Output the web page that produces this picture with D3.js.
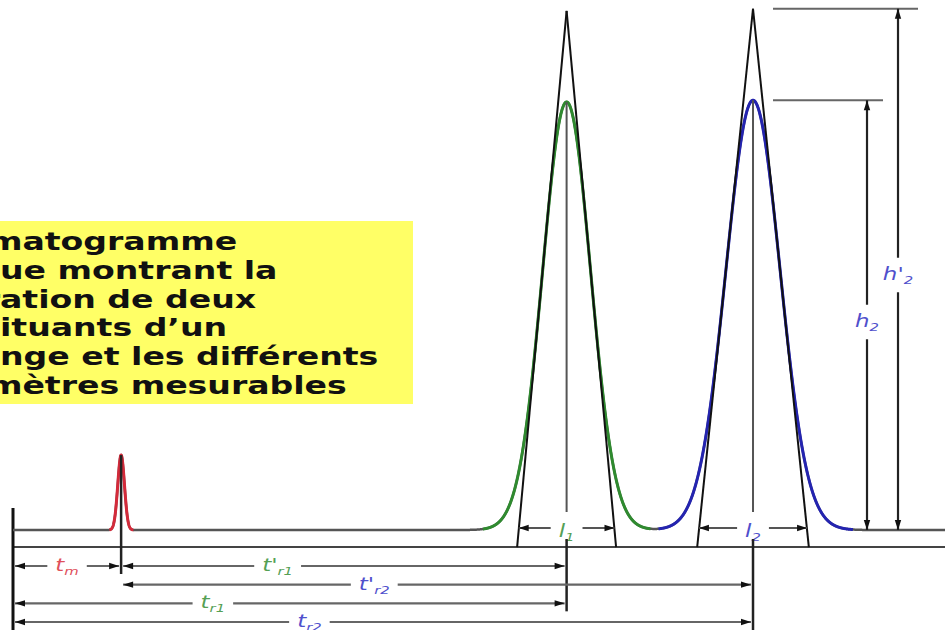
<!DOCTYPE html>
<html>
<head>
<meta charset="utf-8">
<script src="https://cdn.jsdelivr.net/npm/d3@7"></script>
<style>
    body { margin: 0; background: #fff; }
    svg { display: block; }
</style>
</head>
<body>
<svg width="945" height="630"></svg>
<script>
// peaks: dead time (m) and the two separated constituents
var peakKeys = ["m", "1", "2"];
var peakTimes = [11.6, 59.4, 79.4];      // retention time, arbitrary units
var peakHeights = [0.175, 1.0, 1.004];   // relative detector signal
var peakSigmas = [0.36, 2.57, 2.9];      // standard deviation of each peak
var peakColors = ["#d42a3a", "#2f8a2f", "#2424b0"];
var labelColors = ["#e0505a", "#55a055", "#5050cc"];

// time spans measured under the time axis
var spanMain = ["t", "t'", "t'", "t", "t"];
var spanSub = ["m", "r1", "r2", "r1", "r2"];
var spanStart = [0, 11.6, 11.6, 0, 0];
var spanEnd = [11.6, 59.4, 79.4, 59.4, 79.4];
var spanPeak = [0, 1, 2, 1, 2];
var spanRow = [0, 0, 1, 2, 3];

// caption of the figure, its left part is cut by the frame
var captionLines = ["Chromatogramme", "théorique montrant la", "séparation de deux",
    "constituants d’un", "mélange et les différents", "paramètres mesurables"];
var captionHidden = [4.35, 7, 5, 5, 4, 4.35];   // characters hidden past the left edge

/* layout */
var svg = d3.select("svg");
var x = d3.scaleLinear().domain([0, 100]).range([13, 945]);
var y = d3.scaleLinear().domain([0, 1]).range([530, 102]);
var rowY = d3.scaleLinear().domain([0, 3]).range([566, 622]);
var axisLevel = -0.04;
var labelFrac = [0.5, 0.35, 0.4, 0.36, 0.4];
var labelPad = 8;
var stretch = 1.38;

var defs = svg.append("defs");
defs.append("marker")
    .attr("id", "head")
    .attr("viewBox", "0 -4 10 8")
    .attr("refX", 10)
    .attr("refY", 0)
    .attr("markerUnits", "userSpaceOnUse")
    .attr("markerWidth", 11)
    .attr("markerHeight", 8)
    .attr("orient", "auto")
    .append("path")
    .attr("d", "M0,-3.2L10,0L0,3.2Z")
    .attr("fill", "#111");

// caption box
svg.append("rect")
    .attr("x", 0).attr("y", 221)
    .attr("width", 413).attr("height", 183)
    .attr("fill", "#ffff66");

var caption = svg.append("g")
    .attr("transform", "scale(" + stretch + ",1)");
caption.selectAll("text")
    .data(captionLines)
    .enter().append("text")
    .attr("y", function (d, i) { return 250 + i * 28.8; })
    .attr("font-family", "DejaVu Sans, Verdana, sans-serif")
    .attr("font-weight", "bold")
    .attr("font-size", 24)
    .attr("fill", "#111")
    .text(function (d) { return d; })
    .attr("x", function (d, i) {
        var n = Math.floor(captionHidden[i]);
        var w = n > 0 ? this.getSubStringLength(0, n) : 0;
        w += (captionHidden[i] - n) * this.getSubStringLength(n, 1);
        return -w;
    });

function signal(t) {
    var s = 0;
    for (var i = 0; i < peakTimes.length; i++) {
        var z = (t - peakTimes[i]) / peakSigmas[i];
        s += peakHeights[i] * Math.exp(-0.5 * z * z);
    }
    return s;
}

var line = d3.line()
    .x(function (t) { return x(t); })
    .y(function (t) { return y(signal(t)); });

// label with subscript, returns its size on screen
function addLabel(g, px, py, main, sub, color) {
    var t = g.append("text")
        .attr("transform", "translate(" + px + "," + py + ") scale(1.35,1)")
        .attr("text-anchor", "middle")
        .attr("font-family", "DejaVu Sans, Verdana, sans-serif")
        .attr("font-style", "italic")
        .attr("font-size", 17)
        .attr("fill", color);
    t.append("tspan").text(main);
    t.append("tspan").attr("font-size", 11).attr("dy", 4).text(sub);
    var b = t.node().getBBox();
    return { width: b.width * 1.35, height: b.height };
}

// arrow in two pieces around a label, heads at both outer ends
function splitArrow(g, x1, y1, x2, y2, c, half, color) {
    var horiz = y1 === y2;
    var a = horiz ? [c - half, y1] : [x1, c - half];
    var b = horiz ? [c + half, y1] : [x1, c + half];
    [[a, [x1, y1]], [b, [x2, y2]]].forEach(function (p) {
        g.append("line")
            .attr("x1", p[0][0]).attr("y1", p[0][1])
            .attr("x2", p[1][0]).attr("y2", p[1][1])
            .attr("stroke", color)
            .attr("stroke-width", 2.2)
            .attr("marker-end", "url(#head)");
    });
}

var g = svg.append("g");

// time axis and injection mark
g.append("line")
    .attr("x1", x(0)).attr("x2", x(100))
    .attr("y1", y(axisLevel)).attr("y2", y(axisLevel))
    .attr("stroke", "#444").attr("stroke-width", 2);
g.append("line")
    .attr("x1", x(0)).attr("x2", x(0))
    .attr("y1", 508).attr("y2", 630)
    .attr("stroke", "#111").attr("stroke-width", 3);

// detector signal: grey baseline then coloured peaks
var grid = d3.range(0, 100.001, 0.02);
g.append("path")
    .attr("d", line(grid))
    .attr("fill", "none")
    .attr("stroke", "#555")
    .attr("stroke-width", 2.5);

peakTimes.forEach(function (mu, i) {
    var lo = mu - 3.5 * peakSigmas[i];
    var hi = mu + 3.7 * peakSigmas[i];
    if (i > 0) lo = Math.max(lo, (peakTimes[i - 1] + mu) / 2 - 1);
    if (i < peakTimes.length - 1) hi = Math.min(hi, (peakTimes[i + 1] + mu) / 2 - 1);
    g.append("path")
        .attr("d", line(grid.filter(function (t) { return t >= lo && t <= hi; })))
        .attr("fill", "none")
        .attr("stroke", peakColors[i])
        .attr("stroke-width", 3);
});

// tangents at the inflection points and peak widths at the base
peakTimes.forEach(function (mu, i) {
    if (i === 0) return;
    var s = peakSigmas[i];
    var v = peakHeights[i] * Math.exp(-0.5);
    var apex = 2 * v;
    [-1, 1].forEach(function (side) {
        var slope = -side * v / s;
        var tAt = function (lvl) { return mu + side * s + (lvl - v) / slope; };
        g.append("line")
            .attr("x1", x(tAt(axisLevel))).attr("y1", y(axisLevel))
            .attr("x2", x(tAt(apex))).attr("y2", y(apex))
            .attr("stroke", "#111").attr("stroke-width", 2);
    });

    var box = addLabel(g, x(mu), y(0) + 7, "l", String(i), labelColors[i]);
    splitArrow(g, x(mu - 2 * s), y(0) - 2, x(mu + 2 * s), y(0) - 2,
        x(mu), box.width / 2 + labelPad, "#555");
});

// vertical marks at each retention time
peakTimes.forEach(function (mu, i) {
    var lastRow = d3.max(spanRow.filter(function (r, j) { return spanPeak[j] === i; }));
    var bottom = rowY(lastRow) + 8;
    var top = y(peakHeights[i]);
    if (i === 0) {
        g.append("line")
            .attr("x1", x(mu)).attr("x2", x(mu))
            .attr("y1", top).attr("y2", bottom)
            .attr("stroke", "#222").attr("stroke-width", 2.5);
    } else {
        g.append("line")
            .attr("x1", x(mu)).attr("x2", x(mu))
            .attr("y1", top).attr("y2", y(0) - 18)
            .attr("stroke", "#555").attr("stroke-width", 2);
        g.append("line")
            .attr("x1", x(mu)).attr("x2", x(mu))
            .attr("y1", y(0) + 9).attr("y2", bottom)
            .attr("stroke", "#222").attr("stroke-width", 2.5);
    }
});

// retention time spans
spanMain.forEach(function (m, i) {
    var x1 = x(spanStart[i]) + 2;
    var x2 = x(spanEnd[i]) - 2;
    var cx = x1 + (x2 - x1) * labelFrac[i];
    var ry = rowY(spanRow[i]);
    var box = addLabel(g, cx, ry + 5, m, spanSub[i], labelColors[spanPeak[i]]);
    splitArrow(g, x1, ry, x2, ry, cx, box.width / 2 + labelPad, "#666");
});

// heights of peak 2: measured (h2) and from the tangents (h'2)
var p = 2;
var hLevels = [peakHeights[p], 2 * peakHeights[p] * Math.exp(-0.5)];
var hMain = ["h", "h'"];
var hX = [x(peakTimes[p]) + 114, x(peakTimes[p]) + 145];
var hLabelY = [322, 275];
hLevels.forEach(function (lvl, k) {
    g.append("line")
        .attr("x1", x(peakTimes[p]) + 20).attr("x2", hX[k] + 16 + k * 4)
        .attr("y1", y(lvl)).attr("y2", y(lvl))
        .attr("stroke", "#666").attr("stroke-width", 2);
    var box = addLabel(g, hX[k], hLabelY[k] + 5, hMain[k], "2", labelColors[p]);
    splitArrow(g, hX[k], y(lvl), hX[k], y(0), hLabelY[k], box.height / 2 + 6, "#222");
});
</script>
</body>
</html>
